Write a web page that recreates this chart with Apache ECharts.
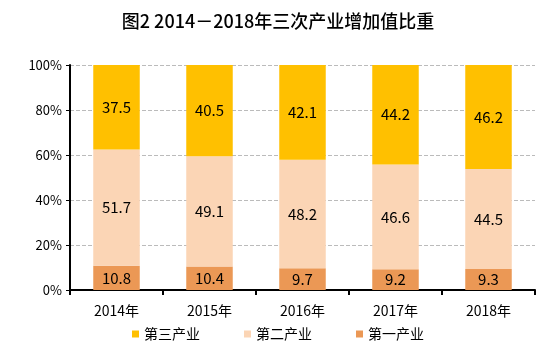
<!DOCTYPE html>
<html>
<head>
<meta charset="utf-8">
<script src="https://cdn.jsdelivr.net/npm/echarts@6/dist/echarts.min.js"></script>
<style>
html,body{margin:0;padding:0;background:#fff;}
#main{width:556px;height:352px;}
</style>
</head>
<body>
<div id="main"></div>
<script>
// 三次产业增加值比重（%）
var years = ['2014年', '2015年', '2016年', '2017年', '2018年'];
var primary = [10.8, 10.4, 9.7, 9.2, 9.3];     // 第一产业
var secondary = [51.7, 49.1, 48.2, 46.6, 44.5]; // 第二产业
var tertiary = [37.5, 40.5, 42.1, 44.2, 46.2];  // 第三产业

var font = '"Noto Sans CJK SC", sans-serif';

function barSeries(name, data, color) {
    return {
        name: name,
        type: 'bar',
        stack: 'total',
        barWidth: '50%',
        data: data,
        itemStyle: { color: color },
        label: {
            show: true,
            position: 'inside',
            color: '#000',
            fontSize: 15,
            fontFamily: font,
            formatter: function (p) { return p.value.toFixed(1); }
        }
    };
}

var chart = echarts.init(document.getElementById('main'));
var option = {
    animation: false,
    title: {
        text: '图2 2014－2018年三次产业增加值比重',
        left: 'center',
        top: 7,
        textStyle: { fontSize: 18, fontWeight: 500, color: '#000', fontFamily: font }
    },
    legend: {
        data: ['第三产业', '第二产业', '第一产业'],
        bottom: 6,
        left: 'center',
        itemWidth: 7,
        itemHeight: 7,
        itemGap: 44,
        icon: 'rect',
        textStyle: { fontSize: 14, color: '#000', fontFamily: font }
    },
    grid: { left: 70, right: 21, top: 65, bottom: 62 },
    xAxis: {
        type: 'category',
        data: years,
        axisLine: { lineStyle: { color: '#000', width: 2 } },
        axisTick: { show: true, inside: false, length: 5, lineStyle: { color: '#000', width: 2 } },
        axisLabel: { color: '#000', fontSize: 14, margin: 14, fontFamily: font }
    },
    yAxis: {
        type: 'value',
        min: 0,
        max: 100,
        interval: 20,
        axisLine: { show: true, lineStyle: { color: '#000', width: 2 } },
        axisTick: { show: true, length: 4, lineStyle: { color: '#000', width: 1 } },
        axisLabel: { color: '#000', fontSize: 13, margin: 8, fontFamily: font, formatter: '{value}%' },
        splitLine: { show: true, lineStyle: { color: '#bbb', type: 'dashed', width: 1 } }
    },
    series: [
        barSeries('第一产业', primary, '#EB9855'),
        barSeries('第二产业', secondary, '#FBD5B5'),
        barSeries('第三产业', tertiary, '#FFC000')
    ]
};
chart.setOption(option);
</script>
</body>
</html>
